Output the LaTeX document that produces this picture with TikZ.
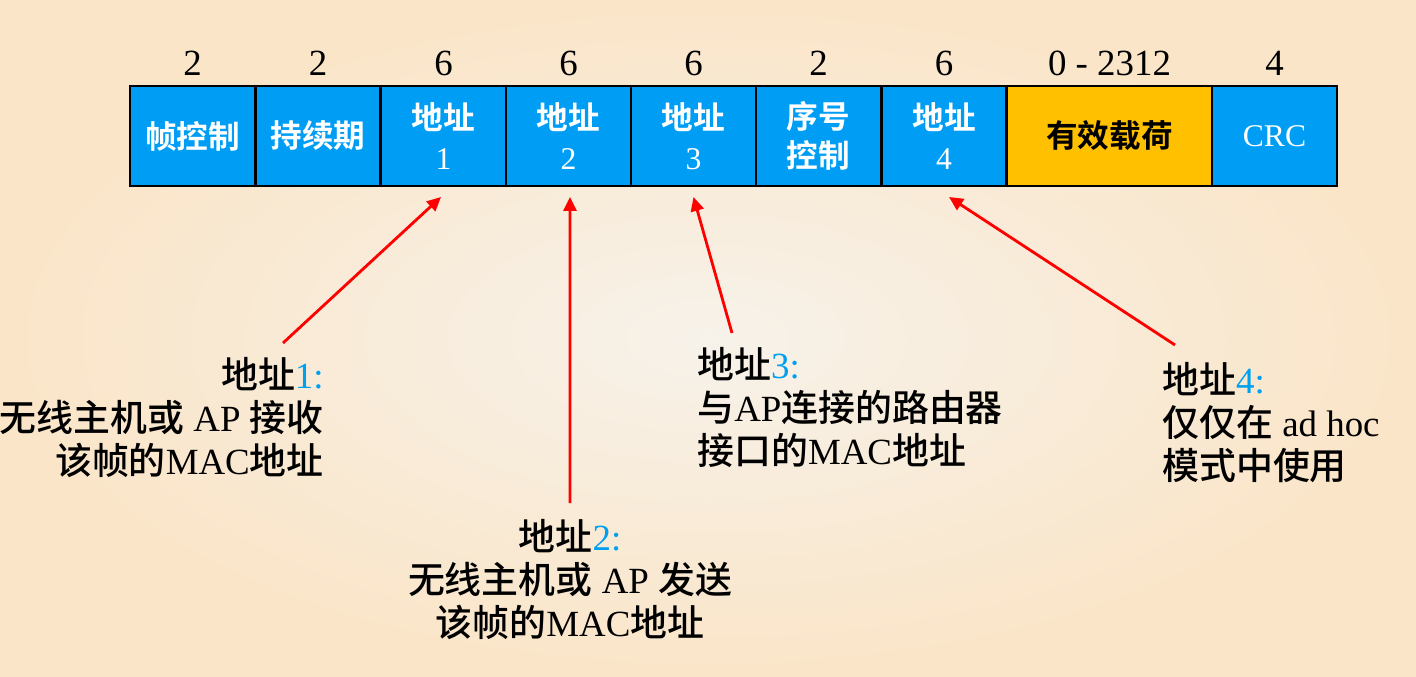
\documentclass[tikz,border=0pt]{standalone}
\usepackage{fontspec}
\setmainfont{Liberation Serif}
\newfontfamily\cjk{Noto Sans CJK SC Medium}
\newfontfamily\cjkbold{Noto Sans CJK SC Bold}
\usepackage{xcolor}
\usepackage{tikz}
\usetikzlibrary{positioning,arrows.meta}

\definecolor{fieldblue}{RGB}{0,157,245}
\definecolor{payloadyellow}{RGB}{255,192,0}
\definecolor{labelblue}{RGB}{0,160,240}
\definecolor{bgin}{HTML}{F7F2EA}
\definecolor{bgout}{HTML}{FAE5C8}

\newcommand{\zhb}[1]{{\cjkbold #1}}
\newcommand{\zh}[1]{{\cjk #1}}

\begin{document}
\begin{tikzpicture}[
    x=0.02cm, y=-0.02cm,
    field/.style={rectangle, draw=black, line width=1.4pt, fill=fieldblue, minimum width=2.5cm, minimum height=2cm, inner sep=0pt, outer sep=0pt, align=center, text=white, font=\fontsize{18}{22.5}\selectfont},
    payload/.style={field, fill=payloadyellow, minimum width=4.1cm, text=black},
    sizelabel/.style={inner sep=0pt, font=\fontsize{21}{24}\selectfont},
    annot/.style={inner sep=0pt, font=\fontsize{21}{24.5}\selectfont},
    redarrow/.style={-{Triangle[length=2.8mm, width=2.6mm]}, line width=1.6pt, red},
]

% === BACKGROUND (fixes the page size) ===
\useasboundingbox (0,0) rectangle (1416,676);
\shade[inner color=bgin, outer color=bgout] (0,0) rectangle (1416,676);

% === FRAME FIELDS ===
\node[field]   (fc)  at (192.5, 136) {\zhb{帧控制}};
\node[field]   (dur) at (318,   136) {\zhb{持续期}};
\node[field]   (a1)  at (443.5, 136) {\zhb{地址}\\1};
\node[field]   (a2)  at (568.5, 136) {\zhb{地址}\\2};
\node[field]   (a3)  at (693.5, 136) {\zhb{地址}\\3};
\node[field]   (seq) at (818.5, 136) {\zhb{序号}\\\zhb{控制}};
\node[field]   (a4)  at (944,   136) {\zhb{地址}\\4};
\node[payload] (pl)  at (1109.5,136) {\zhb{有效载荷}};
\node[field]   (crc) at (1274.5,136) {CRC};

% === FIELD SIZES ===
\node[sizelabel, above=0.2cm of fc]  {2};
\node[sizelabel, above=0.2cm of dur] {2};
\node[sizelabel, above=0.2cm of a1]  {6};
\node[sizelabel, above=0.2cm of a2]  {6};
\node[sizelabel, above=0.2cm of a3]  {6};
\node[sizelabel, above=0.2cm of seq] {2};
\node[sizelabel, above=0.2cm of a4]  {6};
\node[sizelabel, above=0.2cm of pl]  {0 - 2312};
\node[sizelabel, above=0.2cm of crc] {4};

% === ADDRESS NOTES ===
\node[annot, anchor=north east, align=right] (n1) at (324, 357)
    {\zh{地址}\textcolor{labelblue}{1:}\\\zh{无线主机或} AP \zh{接收}\\\zh{该帧的}MAC\zh{地址}};
\node[annot, anchor=north, align=center] (n2) at (570, 519)
    {\zh{地址}\textcolor{labelblue}{2:}\\\zh{无线主机或} AP \zh{发送}\\\zh{该帧的}MAC\zh{地址}};
\node[annot, anchor=north west, align=left] (n3) at (697, 347)
    {\zh{地址}\textcolor{labelblue}{3:}\\\zh{与}AP\zh{连接的路由器}\\\zh{接口的}MAC\zh{地址}};
\node[annot, anchor=north west, align=left] (n4) at (1162, 362)
    {\zh{地址}\textcolor{labelblue}{4:}\\\zh{仅仅在} ad hoc\\\zh{模式中使用}};

% === ARROWS ===
\coordinate (t1) at (283, 343);
\coordinate (t2) at (570, 503);
\coordinate (t3) at (732, 333);
\coordinate (t4) at (1175, 345);
\draw[redarrow] (t1) -- ([xshift=-0.05cm, yshift=-0.22cm]a1.south);
\draw[redarrow] (t2) -- ([xshift=0.03cm, yshift=-0.22cm]a2.south);
\draw[redarrow] (t3) -- ([yshift=-0.22cm]a3.south);
\draw[redarrow] (t4) -- ([xshift=0.1cm, yshift=-0.22cm]a4.south);

\end{tikzpicture}
\end{document}
